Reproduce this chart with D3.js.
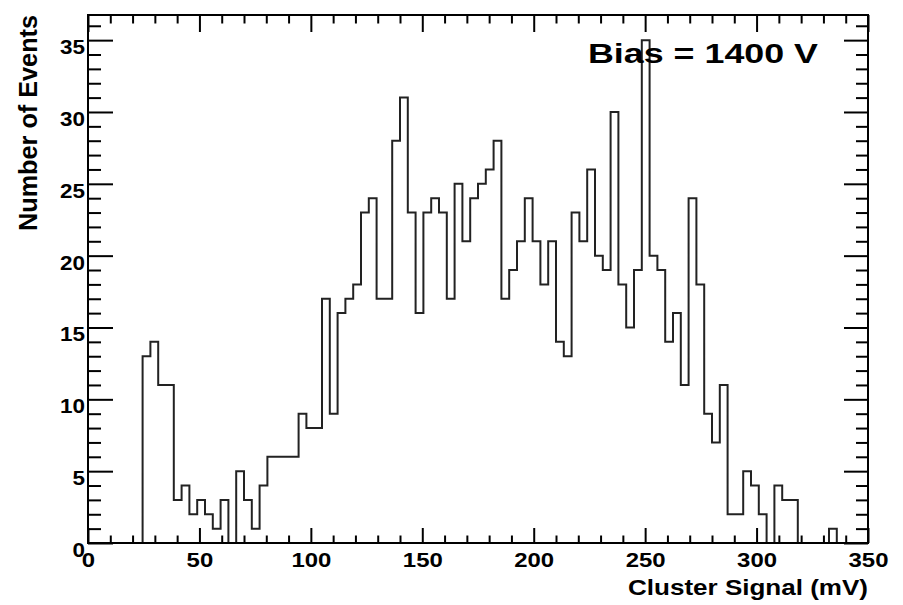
<!DOCTYPE html>
<html><head><meta charset="utf-8">
<script src="https://cdn.jsdelivr.net/npm/d3@7"></script>
<style>
body{margin:0;background:#fff;}
text{font-family:"Liberation Sans",Arial,Helvetica,sans-serif;font-weight:bold;fill:#000;}
</style></head>
<body><svg id="c" width="903" height="605"></svg>
<script>
// ---- data ----
const binStart = 0;
const binWidth = 3.5;
const counts = [
 0,0,0,0,0,0,0,13,14,11,
 11,3,4,2,3,2,1,3,0,5,
 3,1,4,6,6,6,6,9,8,8,
 17,9,16,17,18,23,24,17,17,28,
 31,23,16,23,24,23,17,25,21,24,
 25,26,28,17,19,21,24,21,18,21,
 14,13,23,21,26,20,19,30,18,15,
 19,35,20,19,14,16,11,24,18,9,
 7,11,2,2,5,4,2,0,4,3,
 3,0,0,0,0,1,0,0,0,0
];
const xMajorTicks = [0,50,100,150,200,250,300,350];
const xMinorTicks = [10,20,30,40,60,70,80,90,110,120,130,140,160,170,180,190,210,220,230,240,260,270,280,290,310,320,330,340];
const yMajorTicks = [0,5,10,15,20,25,30,35];
const yMinorTicks = [1,2,3,4,6,7,8,9,11,12,13,14,16,17,18,19,21,22,23,24,26,27,28,29,31,32,33,34,36];
const xDomain = [0,350];
const yDomain = [0,36.75];
const xTitle = "Cluster Signal (mV)";
const yTitle = "Number of Events";
const label = "Bias = 1400 V";

// ---- layout ----
const L=88, R=868, T=15, B=543;
const svg = d3.select("#c");
const x = d3.scaleLinear().domain(xDomain).range([L,R]);
const y = d3.scaleLinear().domain(yDomain).range([B,T]);

// histogram outline
const pts = counts.map((v,i)=>[binStart+i*binWidth, v]);
pts.push([binStart+counts.length*binWidth, counts[counts.length-1]]);
const line = d3.line().x(d=>x(d[0])).y(d=>y(d[1])).curve(d3.curveStepAfter);
svg.append("path").attr("d", line(pts)).attr("fill","none")
  .attr("stroke","#222").attr("stroke-width",2);

function styleAxis(g){
  g.select(".domain").remove();
  g.selectAll(".tick line").attr("stroke","#000").attr("stroke-width",2);
}
const sxX = 1.14, sxY = 1.07;
// bottom
svg.append("g").attr("transform",`translate(0,${B})`)
  .call(d3.axisBottom(x).tickValues(xMajorTicks).tickSize(-15).tickFormat(d3.format("d")))
  .call(styleAxis)
  .call(g=>g.selectAll(".tick text").attr("y",24).attr("dy",0)
     .attr("font-size",21).attr("fill","#000")
     .attr("font-family","Liberation Sans, Arial, sans-serif").attr("font-weight","bold")
     .attr("transform",`scale(${sxX},1)`));
svg.append("g").attr("transform",`translate(0,${B})`)
  .call(d3.axisBottom(x).tickValues(xMinorTicks).tickSize(-7.5).tickFormat(""))
  .call(styleAxis);
// top
svg.append("g").attr("transform",`translate(0,${T})`)
  .call(d3.axisTop(x).tickValues(xMajorTicks).tickSize(-17).tickFormat(""))
  .call(styleAxis);
svg.append("g").attr("transform",`translate(0,${T})`)
  .call(d3.axisTop(x).tickValues(xMinorTicks).tickSize(-8.5).tickFormat(""))
  .call(styleAxis);
// left
svg.append("g").attr("transform",`translate(${L},0)`)
  .call(d3.axisLeft(y).tickValues(yMajorTicks).tickSize(-25).tickFormat(d3.format("d")))
  .call(styleAxis)
  .call(g=>g.selectAll(".tick text").attr("x",-3/sxY).attr("dy",0).attr("y",13.5)
     .attr("font-size",21).attr("fill","#000").attr("text-anchor","end")
     .attr("font-family","Liberation Sans, Arial, sans-serif").attr("font-weight","bold")
     .attr("transform",`scale(${sxY},1)`));
svg.append("g").attr("transform",`translate(${L},0)`)
  .call(d3.axisLeft(y).tickValues(yMinorTicks).tickSize(-13).tickFormat(""))
  .call(styleAxis);
// right
svg.append("g").attr("transform",`translate(${R},0)`)
  .call(d3.axisRight(y).tickValues(yMajorTicks).tickSize(-24).tickFormat(""))
  .call(styleAxis);
svg.append("g").attr("transform",`translate(${R},0)`)
  .call(d3.axisRight(y).tickValues(yMinorTicks).tickSize(-12).tickFormat(""))
  .call(styleAxis);

// frame
svg.append("rect").attr("x",L).attr("y",T).attr("width",R-L).attr("height",B-T)
  .attr("fill","none").attr("stroke","#000").attr("stroke-width",2);

// titles
svg.append("text").attr("x",R).attr("y",595).attr("text-anchor","end")
  .attr("font-size",22).attr("textLength",240).attr("lengthAdjust","spacingAndGlyphs")
  .text(xTitle);
svg.append("text").attr("transform",`translate(37,${T}) rotate(-90)`).attr("text-anchor","end")
  .attr("font-size",26).attr("textLength",216).attr("lengthAdjust","spacingAndGlyphs")
  .text(yTitle);
svg.append("text").attr("x",588).attr("y",63)
  .attr("font-size",28).attr("textLength",230).attr("lengthAdjust","spacingAndGlyphs")
  .text(label);
</script></body></html>
